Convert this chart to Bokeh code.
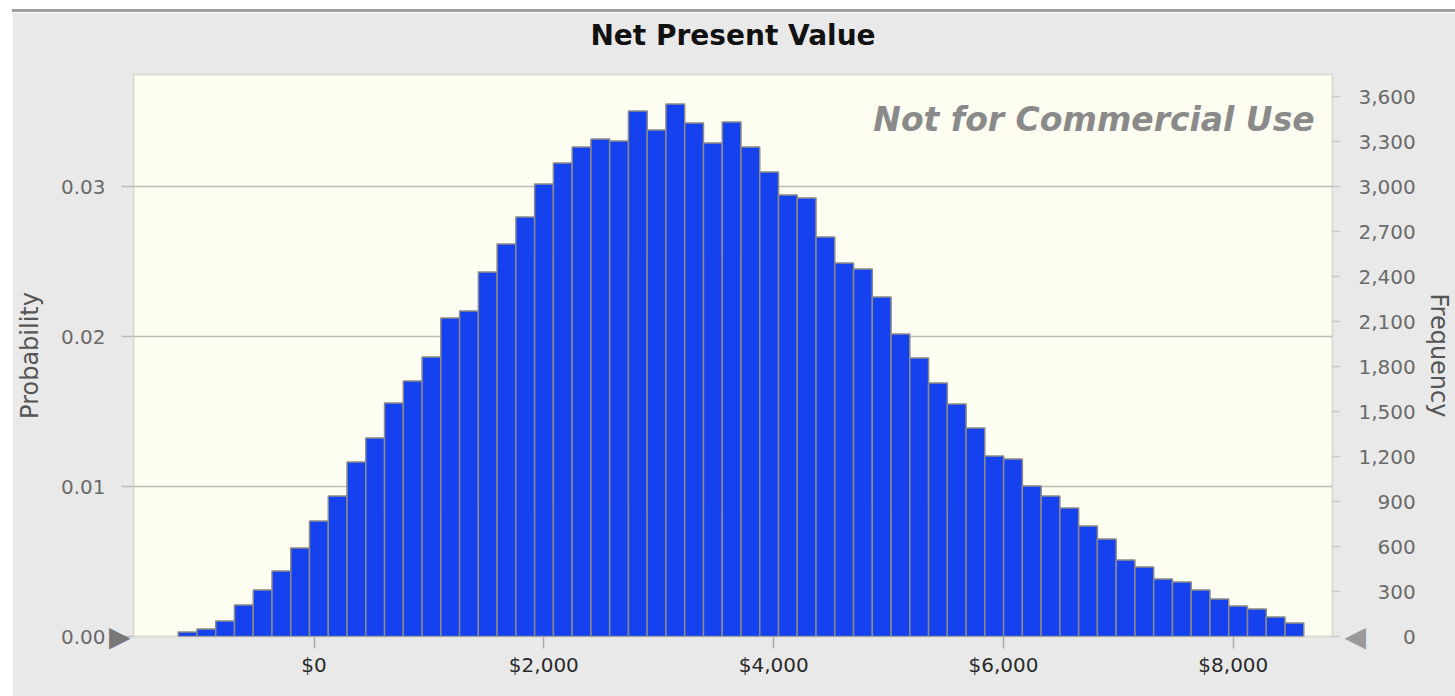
from bokeh.plotting import figure
from bokeh.models import (Range1d, LinearAxis, FixedTicker, NumeralTickFormatter,
                          CustomJSTickFormatter, Label, Spacer, Grid)
from bokeh.layouts import row, column
from bokeh.embed import file_html
from bokeh.resources import INLINE

# ---- data ----
title = "Net Present Value"
trials = 100000
bin_start = -1182.0      # left edge of first bin ($)
bin_width = 163.25       # width of each bin ($)
frequency = [30, 50, 103, 210, 310, 437, 590, 770, 937, 1163,
             1323, 1557, 1703, 1863, 2123, 2170, 2430, 2617, 2797, 3017,
             3157, 3263, 3317, 3303, 3503, 3377, 3550, 3423, 3290, 3430,
             3263, 3097, 2943, 2923, 2663, 2490, 2450, 2263, 2017, 1857,
             1690, 1550, 1390, 1203, 1183, 1003, 937, 857, 737, 650,
             510, 463, 383, 363, 310, 250, 203, 183, 130, 90]
x_ticks = [0, 2000, 4000, 6000, 8000]
prob_ticks = [0.0, 0.01, 0.02, 0.03]
freq_ticks = [0, 300, 600, 900, 1200, 1500, 1800, 2100, 2400, 2700, 3000, 3300, 3600]
x_min, x_max = -1571, 8863
prob_max = 0.03747
watermark = "Not for Commercial Use"

lefts = [bin_start + i * bin_width for i in range(len(frequency))]
rights = [l + bin_width for l in lefts]

FONT = "DejaVu Sans"
BG = "#e9e9e9"
W = 1443

p = figure(width=W, height=684, output_backend="svg", toolbar_location=None,
           x_range=Range1d(x_min, x_max), y_range=Range1d(0, prob_max),
           x_axis_location=None, y_axis_location=None,
           min_border_left=119, min_border_right=115, min_border_top=62, min_border_bottom=60,
           background_fill_color="#fdfdf1", border_fill_color=BG,
           outline_line_color="#dcdcd2", outline_line_width=2)
p.extra_y_ranges = {"freq": Range1d(0, prob_max * trials)}

p.title.text = title
p.title.align = "center"
p.title.vertical_align = "bottom"
p.title.text_font = FONT
p.title.text_font_size = "28px"
p.title.text_font_style = "bold"
p.title.text_color = "#111111"
p.title.standoff = 0

# invisible spacer axis between frame and title, lifts the title
sp = LinearAxis(ticker=FixedTicker(ticks=[x_ticks[0]]),
                formatter=CustomJSTickFormatter(code='return "";'),
                axis_line_color=None, major_tick_line_color=None,
                minor_tick_line_color=None, major_tick_in=0, major_tick_out=23,
                major_label_standoff=0, major_label_text_font_size="1px")
p.add_layout(sp, "above")

p.quad(left=lefts, right=rights, bottom=0, top=frequency, y_range_name="freq",
       fill_color="#1541ee", line_color="#8a8a8a", line_width=1.5)

# grid
p.xgrid.visible = False
p.ygrid.visible = False
p.add_layout(Grid(dimension=1, ticker=FixedTicker(ticks=[0.01, 0.02, 0.03]),
                  grid_line_color="#bdbdb8", grid_line_width=1.5))

# x axis (bottom)
xa = LinearAxis(ticker=FixedTicker(ticks=x_ticks), formatter=NumeralTickFormatter(format="$0,0"))
xa.axis_line_color = None
xa.major_tick_in = 0
xa.major_tick_out = 12
xa.major_tick_line_color = "#aaaaaa"
xa.major_tick_line_width = 1.5
xa.minor_tick_line_color = None
xa.major_label_standoff = 4
xa.major_label_text_font = FONT
xa.major_label_text_font_size = "20px"
xa.major_label_text_color = "#2a2a2a"
p.add_layout(xa, "below")

# left: tick marks + slider handle (closest to the frame)
lh = LinearAxis(ticker=FixedTicker(ticks=prob_ticks),
                formatter=CustomJSTickFormatter(code='return tick == 0 ? "\\u25B6" : "";'))
lh.axis_line_color = None
lh.major_tick_in = 0
lh.major_tick_out = 12
lh.major_tick_line_color = "#bdbdb8"
lh.major_tick_line_width = 1.5
lh.minor_tick_line_color = None
lh.major_label_standoff = -9
lh.major_label_text_font = FONT
lh.major_label_text_font_size = "28px"
lh.major_label_text_color = "#777777"
p.add_layout(lh, "left")

# left axis (probability)
ya = LinearAxis(ticker=FixedTicker(ticks=prob_ticks), formatter=NumeralTickFormatter(format="0.00"))
ya.axis_line_color = None
ya.major_tick_in = 0
ya.major_tick_out = 0
ya.minor_tick_line_color = None
ya.major_label_standoff = 0
ya.major_label_text_font = FONT
ya.major_label_text_font_size = "20px"
ya.major_label_text_color = "#6a6a6a"
ya.axis_label = "Probability"
ya.axis_label_standoff = 14
ya.axis_label_text_font = FONT
ya.axis_label_text_font_size = "24px"
ya.axis_label_text_font_style = "normal"
ya.axis_label_text_color = "#555555"
p.add_layout(ya, "left")

# right: tick marks + slider handle
rh = LinearAxis(y_range_name="freq", ticker=FixedTicker(ticks=freq_ticks),
                formatter=CustomJSTickFormatter(code='return tick == 0 ? "\\u25C0" : "";'))
rh.axis_line_color = None
rh.major_tick_in = 0
rh.major_tick_out = 7
rh.major_tick_line_color = "#c8c8c4"
rh.major_tick_line_width = 1.5
rh.minor_tick_line_color = None
rh.major_label_standoff = 5
rh.major_label_text_font = FONT
rh.major_label_text_font_size = "28px"
rh.major_label_text_color = "#9a9a9a"
p.add_layout(rh, "right")

# right axis (frequency)
pad_js = """
const n = Math.round(tick);
let s = n.toString();
if (n >= 1000) { s = s.slice(0, -3) + "," + s.slice(-3); }
const digits = s.replace(/,/g, "").length;
const commas = (s.match(/,/g) || []).length;
return "\\u2007".repeat(Math.max(0, 4 - digits)) + "\\u2008".repeat(Math.max(0, 1 - commas)) + s;
"""
ra = LinearAxis(y_range_name="freq", ticker=FixedTicker(ticks=freq_ticks),
                formatter=CustomJSTickFormatter(code=pad_js))
ra.axis_line_color = None
ra.major_tick_in = 0
ra.major_tick_out = 0
ra.minor_tick_line_color = None
ra.major_label_standoff = -11
ra.major_label_text_font = FONT
ra.major_label_text_font_size = "20px"
ra.major_label_text_color = "#6a6a6a"
ra.axis_label = "Frequency"
ra.axis_label_standoff = 6
ra.axis_label_text_font = FONT
ra.axis_label_text_font_size = "24px"
ra.axis_label_text_font_style = "normal"
ra.axis_label_text_color = "#555555"
p.add_layout(ra, "right")

# watermark
p.add_layout(Label(x=8708, y=0.03447, text=watermark, text_align="right", text_baseline="middle",
                   text_font=FONT, text_font_size="33px", text_font_style="bold italic",
                   text_color="#8a8a8a"))

top_line = Spacer(width=W, height=3, styles={"background-color": "#a0a0a0"})
layout = row(Spacer(width=12, height=696), column(Spacer(width=W, height=9), top_line, p))
open("out.html", "w").write(file_html(layout, INLINE))
